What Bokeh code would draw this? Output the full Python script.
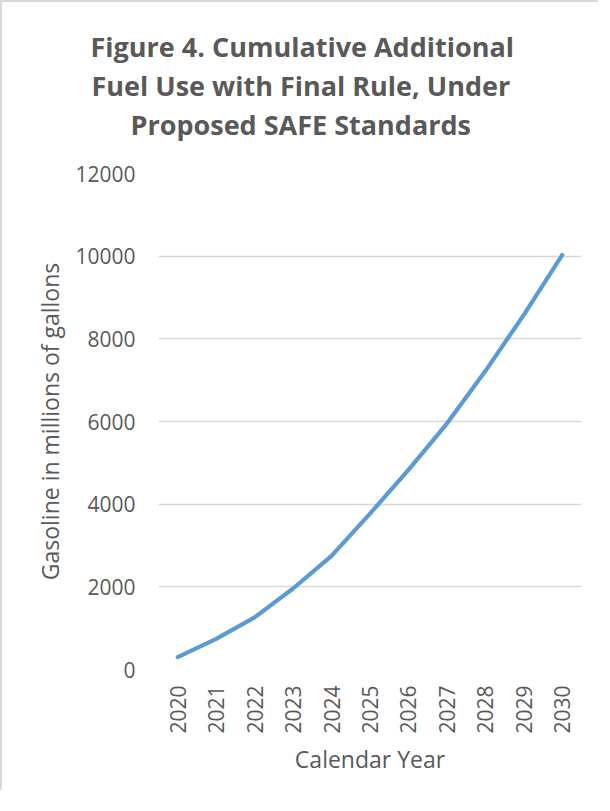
import math
from bokeh.plotting import figure
from bokeh.models import ColumnDataSource, FixedTicker, Title, BasicTickFormatter
from bokeh.embed import file_html
from bokeh.resources import INLINE

# ---- data ----
years = [2020, 2021, 2022, 2023, 2024, 2025, 2026, 2027, 2028, 2029, 2030]
gasoline = [300, 740, 1260, 1960, 2750, 3770, 4830, 5950, 7220, 8580, 10030]
y_ticks = [0, 2000, 4000, 6000, 8000, 10000, 12000]
title_lines = ["Figure 4. Cumulative Additional",
               "Fuel Use with Final Rule, Under",
               "Proposed SAFE Standards"]
x_label = "Calendar Year"
y_label = "Gasoline in millions of gallons"

TEXT = "#595959"
FONT = "Open Sans"

p = figure(width=598, height=790, output_backend="svg", toolbar_location=None,
           x_range=(years[0] - 0.5, years[-1] + 0.5), y_range=(0, 12000),
           min_border_left=156, min_border_right=19,
           min_border_top=171, min_border_bottom=123)
p.styles = {"border-left": "2px solid #D9D9D9", "border-top": "2px solid #D9D9D9"}
p.background_fill_color = "white"
p.border_fill_color = "white"
p.outline_line_color = None

src = ColumnDataSource(dict(year=years, val=gasoline))
p.line("year", "val", source=src, line_color="#5B9BD5", line_width=4.2,
       line_cap="round", line_join="round")

# grid
p.xgrid.grid_line_color = None
p.ygrid.grid_line_color = "#D9D9D9"
p.ygrid.grid_line_width = 1.3

# y axis
p.yaxis.ticker = FixedTicker(ticks=y_ticks)
p.yaxis.formatter = BasicTickFormatter(use_scientific=False)
p.yaxis.axis_line_color = None
p.yaxis.major_tick_line_color = None
p.yaxis.minor_tick_line_color = None
p.yaxis.major_tick_out = 0
p.yaxis.major_tick_in = 0
p.yaxis.major_label_standoff = 23
p.yaxis.major_label_text_font = FONT
p.yaxis.major_label_text_font_size = "21px"
p.yaxis.major_label_text_color = TEXT
p.yaxis.axis_label = y_label
p.yaxis.axis_label_text_font = FONT
p.yaxis.axis_label_text_font_size = "23px"
p.yaxis.axis_label_text_font_style = "normal"
p.yaxis.axis_label_text_color = TEXT
p.yaxis.axis_label_standoff = 6

# x axis
p.xaxis.ticker = FixedTicker(ticks=years)
p.xaxis.axis_line_color = None
p.xaxis.major_tick_line_color = None
p.xaxis.minor_tick_line_color = None
p.xaxis.major_tick_out = 0
p.xaxis.major_tick_in = 0
p.xaxis.major_label_orientation = math.pi / 2
p.xaxis.major_label_standoff = 16
p.xaxis.major_label_text_font = FONT
p.xaxis.major_label_text_font_size = "21px"
p.xaxis.major_label_text_color = TEXT
p.xaxis.axis_label = x_label
p.xaxis.axis_label_text_font = FONT
p.xaxis.axis_label_text_font_size = "23px"
p.xaxis.axis_label_text_font_style = "normal"
p.xaxis.axis_label_text_color = TEXT
p.xaxis.axis_label_standoff = 6

# title: three centred lines stacked above the frame (added bottom line first)
p.add_layout(Title(text=" ", text_font_size="1px", standoff=28), "above")
offsets = [-68, -67, -28]
for line, off in reversed(list(zip(title_lines, offsets))):
    p.add_layout(Title(text=line, align="left", offset=off, standoff=0,
                       text_font=FONT, text_font_size="27px", text_font_style="bold",
                       text_color=TEXT), "above")

open("out.html", "w").write(file_html(p, INLINE))
